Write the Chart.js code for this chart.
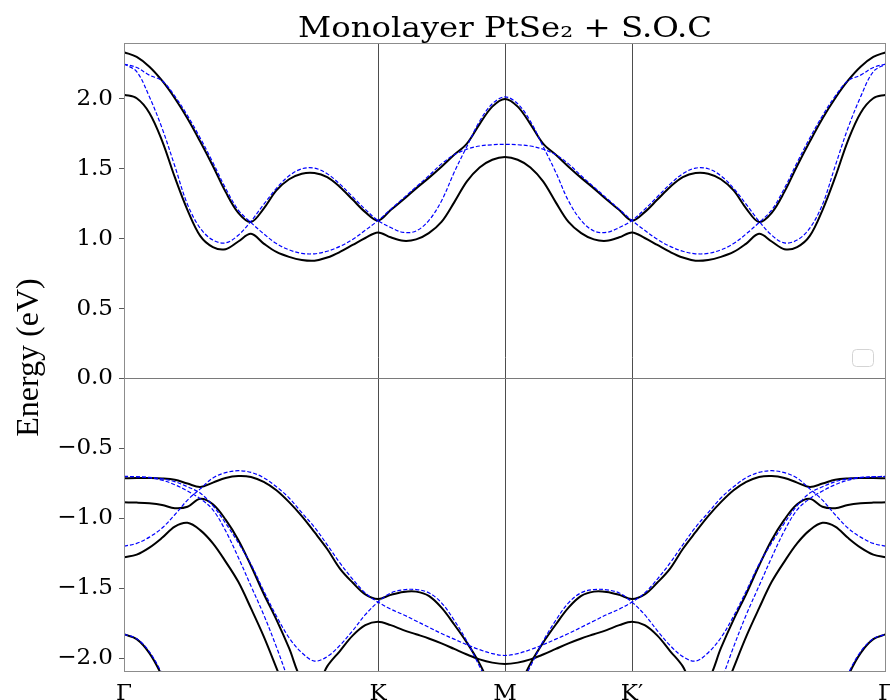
<!DOCTYPE html>
<html lang="en">
<head>
<meta charset="UTF-8">
<title>Monolayer PtSe2 + S.O.C</title>
<script src="https://cdn.jsdelivr.net/npm/chart.js"></script>
<style>
  html, body { margin: 0; padding: 0; background: #fff; }
  canvas { display: block; }
</style>
</head>
<body>
<canvas id="bands" width="890" height="700"></canvas>
<script>
// k-point index along the path Γ - K - M - K' - Γ
const kIndex = [
  0, 1, 2, 3, 4, 5, 6, 7, 8, 9, 10, 11, 12, 13, 14, 15, 16, 17, 18, 19,
  20, 21, 22, 23, 24, 25, 26, 27, 28, 29, 30, 31, 32, 33, 34, 35, 36, 37, 38, 39,
  40, 41, 42, 43, 44, 45, 46, 47, 48, 49, 50, 51, 52, 53, 54, 55, 56, 57, 58, 59, 60
];
const symPoints = [0, 20, 30, 40, 60];
const symLabels = ['Γ', 'K', 'M', 'K′', 'Γ'];
const energyTicks = [-2.0, -1.5, -1.0, -0.5, 0.0, 0.5, 1.0, 1.5, 2.0];

// bands with S.O.C (black, solid)
const socCB1 = [
  2.03, 2.005, 1.90, 1.70, 1.44, 1.205, 1.02, 0.94, 0.925, 0.98,
  1.035, 0.965, 0.905, 0.87, 0.848, 0.843, 0.865, 0.905, 0.955, 1.005,
  1.045, 1.01, 0.985, 0.995, 1.04, 1.12, 1.26, 1.41, 1.51, 1.565,
  1.585,
  1.565, 1.51, 1.41, 1.26, 1.12, 1.04, 0.995, 0.985, 1.01, 1.045,
  1.005, 0.955, 0.905, 0.865, 0.843, 0.848, 0.87, 0.905, 0.965, 1.035,
  0.98, 0.925, 0.94, 1.02, 1.205, 1.44, 1.70, 1.90, 2.005, 2.03
];
const socCB2 = [
  2.335, 2.30, 2.23, 2.13, 2.005, 1.86, 1.695, 1.52, 1.335, 1.185,
  1.12, 1.215, 1.345, 1.425, 1.465, 1.47, 1.44, 1.37, 1.28, 1.19,
  1.13, 1.205, 1.28, 1.36, 1.435, 1.515, 1.60, 1.68, 1.82, 1.945,
  2.00,
  1.945, 1.82, 1.68, 1.60, 1.515, 1.435, 1.36, 1.28, 1.205, 1.13,
  1.19, 1.28, 1.37, 1.44, 1.47, 1.465, 1.425, 1.345, 1.215, 1.12,
  1.185, 1.335, 1.52, 1.695, 1.86, 2.005, 2.13, 2.23, 2.30, 2.335
];
const socVB1 = [
  -0.714, -0.712, -0.712, -0.715, -0.725, -0.752, -0.776, -0.745, -0.712, -0.698,
  -0.705, -0.74, -0.80, -0.885, -0.985, -1.10, -1.22, -1.36, -1.46, -1.545,
  -1.578, -1.548, -1.527, -1.525, -1.556, -1.64, -1.76, -1.89, -2.04, -2.22,
  -2.33,
  -2.22, -2.04, -1.89, -1.76, -1.64, -1.556, -1.525, -1.527, -1.548, -1.578,
  -1.545, -1.46, -1.36, -1.22, -1.10, -0.985, -0.885, -0.80, -0.74, -0.705,
  -0.698, -0.712, -0.745, -0.776, -0.752, -0.725, -0.715, -0.712, -0.712, -0.714
];
const socVB2 = [
  -0.886, -0.888, -0.893, -0.905, -0.928, -0.918, -0.86, -0.90, -1.01, -1.155,
  -1.34, -1.54, -1.725, -1.93, -2.16, -2.23, -2.06, -1.95, -1.84, -1.765,
  -1.74, -1.765, -1.80, -1.83, -1.86, -1.895, -1.935, -1.975, -2.01, -2.033,
  -2.043,
  -2.033, -2.01, -1.975, -1.935, -1.895, -1.86, -1.83, -1.80, -1.765, -1.74,
  -1.765, -1.84, -1.95, -2.06, -2.23, -2.16, -1.93, -1.725, -1.54, -1.34,
  -1.155, -1.01, -0.90, -0.86, -0.918, -0.928, -0.905, -0.893, -0.888, -0.886
];
const socVB3 = [
  -1.28, -1.26, -1.21, -1.14, -1.06, -1.033, -1.085, -1.18, -1.31, -1.455,
  -1.645, -1.845, -2.07, -2.3, -2.5, null, null, null, null, null,
  null, null, null, null, null, null, null, null, null, null,
  null,
  null, null, null, null, null, null, null, null, null, null,
  null, null, null, null, null, -2.5, -2.3, -2.07, -1.845, -1.645,
  -1.455, -1.31, -1.18, -1.085, -1.033, -1.06, -1.14, -1.21, -1.26, -1.28
];
const socVB4 = [
  -1.83, -1.865, -1.965, -2.13, -2.35, null, null, null, null, null,
  null, null, null, null, null, null, null, null, null, null,
  null, null, null, null, null, null, null, null, null, null,
  null,
  null, null, null, null, null, null, null, null, null, null,
  null, null, null, null, null, null, null, null, null, null,
  null, null, null, null, null, -2.35, -2.13, -1.965, -1.865, -1.83
];

// bands without S.O.C (blue, dashed)
const noSocA = [
  2.25, 2.195, 2.015, 1.79, 1.52, 1.245, 1.075, 0.99, 0.97, 1.025,
  1.125, 1.245, 1.36, 1.45, 1.50, 1.505, 1.465, 1.39, 1.30, 1.21,
  1.13, 1.08, 1.045, 1.055, 1.13, 1.27, 1.475, 1.66, 1.84, 1.965,
  2.015,
  1.965, 1.84, 1.66, 1.475, 1.27, 1.13, 1.055, 1.045, 1.08, 1.13,
  1.21, 1.30, 1.39, 1.465, 1.505, 1.50, 1.45, 1.36, 1.245, 1.125,
  1.025, 0.97, 0.99, 1.075, 1.245, 1.52, 1.79, 2.015, 2.195, 2.25
];
const noSocB = [
  2.25, 2.225, 2.17, 2.13, 2.02, 1.88, 1.72, 1.545, 1.36, 1.205,
  1.115, 1.035, 0.965, 0.92, 0.895, 0.892, 0.91, 0.945, 0.995, 1.06,
  1.13, 1.21, 1.29, 1.37, 1.45, 1.535, 1.60, 1.64, 1.663, 1.672,
  1.675,
  1.672, 1.663, 1.64, 1.60, 1.535, 1.45, 1.37, 1.29, 1.21, 1.13,
  1.06, 0.995, 0.945, 0.91, 0.892, 0.895, 0.92, 0.965, 1.035, 1.115,
  1.205, 1.36, 1.545, 1.72, 1.88, 2.02, 2.13, 2.17, 2.225, 2.25
];
const noSocC = [
  -1.20, -1.18, -1.135, -1.07, -0.975, -0.87, -0.79, -0.712, -0.674, -0.66,
  -0.672, -0.71, -0.775, -0.855, -0.96, -1.065, -1.19, -1.32, -1.435, -1.535,
  -1.60, -1.65, -1.69, -1.735, -1.78, -1.825, -1.865, -1.905, -1.94, -1.968,
  -1.982,
  -1.968, -1.94, -1.905, -1.865, -1.825, -1.78, -1.735, -1.69, -1.65, -1.60,
  -1.535, -1.435, -1.32, -1.19, -1.065, -0.96, -0.855, -0.775, -0.71, -0.672,
  -0.66, -0.674, -0.712, -0.79, -0.87, -0.975, -1.07, -1.135, -1.18, -1.20
];
const noSocD = [
  -0.702, -0.704, -0.71, -0.728, -0.76, -0.805, -0.86, -0.94, -1.09, -1.28,
  -1.485, -1.69, -1.92, -2.17, -2.4, null, null, null, null, null,
  null, null, null, null, null, null, null, null, null, null,
  null,
  null, null, null, null, null, null, null, null, null, null,
  null, null, null, null, null, -2.4, -2.17, -1.92, -1.69, -1.485,
  -1.28, -1.09, -0.94, -0.86, -0.805, -0.76, -0.728, -0.71, -0.704, -0.702
];
const noSocE = [
  -0.70, -0.703, -0.708, -0.718, -0.738, -0.775, -0.82, -0.91, -1.035, -1.175,
  -1.33, -1.52, -1.70, -1.855, -1.962, -2.022, -1.99, -1.91, -1.805, -1.69,
  -1.60, -1.535, -1.512, -1.51, -1.533, -1.605, -1.73, -1.88, -2.06, -2.23,
  -2.33,
  -2.23, -2.06, -1.88, -1.73, -1.605, -1.533, -1.51, -1.512, -1.535, -1.60,
  -1.69, -1.805, -1.91, -1.99, -2.022, -1.962, -1.855, -1.70, -1.52, -1.33,
  -1.175, -1.035, -0.91, -0.82, -0.775, -0.738, -0.718, -0.708, -0.703, -0.70
];
const noSocF = [
  -1.83, -1.862, -1.955, -2.115, -2.33, null, null, null, null, null,
  null, null, null, null, null, null, null, null, null, null,
  null, null, null, null, null, null, null, null, null, null,
  null,
  null, null, null, null, null, null, null, null, null, null,
  null, null, null, null, null, null, null, null, null, null,
  null, null, null, null, null, -2.33, -2.115, -1.955, -1.862, -1.83
];

const socBands = [socCB1, socCB2, socVB1, socVB2, socVB3, socVB4];
const noSocBands = [noSocA, noSocB, noSocC, noSocD, noSocE, noSocF];

const toPoints = (band) => kIndex.map((k, i) => ({ x: k, y: band[i] }));

const bandSet = (band, isSoc) => ({
  data: toPoints(band),
  borderColor: isSoc ? '#000000' : '#0000ff',
  borderWidth: isSoc ? 2 : 1.2,
  borderDash: isSoc ? [] : [4, 2],
  pointRadius: 0,
  fill: false,
  tension: 0.35,
  spanGaps: false,
  clip: 0
});

// blue first so it is painted over the black lines
const datasets = [
  ...noSocBands.map(b => bandSet(b, false)),
  ...socBands.map(b => bandSet(b, true))
];

const decorPlugin = {
  id: 'decor',
  afterDatasetsDraw(chart) {
    const { ctx, chartArea: a } = chart;
    ctx.save();
    // axes frame
    ctx.strokeStyle = '#8c8c8c';
    ctx.lineWidth = 1;
    ctx.strokeRect(a.left + 0.5, a.top + 0.5, a.right - a.left - 1, a.bottom - a.top - 1);
    // empty legend box
    ctx.beginPath();
    ctx.roundRect(a.right - 33.5, a.top + 306.5, 21, 17, 4);
    ctx.fillStyle = 'rgba(255,255,255,0.8)';
    ctx.fill();
    ctx.strokeStyle = '#d4d4d4';
    ctx.stroke();
    ctx.restore();
  },
  afterDraw(chart) {
    const { ctx, chartArea: a } = chart;
    ctx.save();
    ctx.fillStyle = '#000';
    ctx.font = '27px "DejaVu Serif"';
    ctx.textAlign = 'center';
    ctx.textBaseline = 'alphabetic';
    ctx.translate((a.left + a.right) / 2, 37);
    ctx.scale(1.2, 1);
    ctx.fillText('Monolayer PtSe₂ + S.O.C', 0, 0);
    ctx.restore();
  }
};

new Chart(document.getElementById('bands'), {
  type: 'line',
  data: { datasets },
  plugins: [decorPlugin],
  options: {
    responsive: false,
    animation: false,
    devicePixelRatio: 1,
    layout: { padding: { top: 43, right: 4, bottom: 0, left: 0 } },
    plugins: {
      legend: { display: false },
      tooltip: { enabled: false }
    },
    scales: {
      x: {
        type: 'linear',
        min: 0,
        max: 60,
        afterBuildTicks: (s) => { s.ticks = symPoints.map(v => ({ value: v })); },
        afterFit: (s) => { s.height = 28; s.paddingLeft = 0; s.paddingRight = 0; },
        border: { display: false },
        grid: {
          drawTicks: false,
          lineWidth: 1,
          color: (c) => (c.tick && (c.tick.value === 0 || c.tick.value === 60)) ? 'rgba(0,0,0,0)' : '#4d4d4d'
        },
        ticks: {
          autoSkip: false,
          maxRotation: 0,
          padding: 8,
          color: '#000',
          font: { family: 'DejaVu Serif', size: 23 },
          callback: (v) => symLabels[symPoints.indexOf(v)]
        }
      },
      y: {
        min: -2.1,
        max: 2.4,
        afterBuildTicks: (s) => { s.ticks = energyTicks.map(v => ({ value: v })); },
        afterFit: (s) => { s.width = 124; s.paddingTop = 0; s.paddingBottom = 0; },
        border: { display: false },
        grid: {
          drawTicks: true,
          tickLength: 5,
          tickColor: '#555',
          lineWidth: 1,
          color: (c) => (c.tick && c.tick.value === 0) ? '#7a7a7a' : 'rgba(0,0,0,0)'
        },
        ticks: {
          padding: 6,
          color: '#000',
          font: { family: 'DejaVu Serif', size: 23 },
          callback: (v) => (v < 0 ? '−' : '') + Math.abs(v).toFixed(1)
        },
        title: {
          display: true,
          text: 'Energy (eV)',
          color: '#000',
          font: { family: 'Liberation Serif', size: 32 },
          padding: { top: 10, bottom: 0 }
        }
      }
    }
  }
});
</script>
</body>
</html>
